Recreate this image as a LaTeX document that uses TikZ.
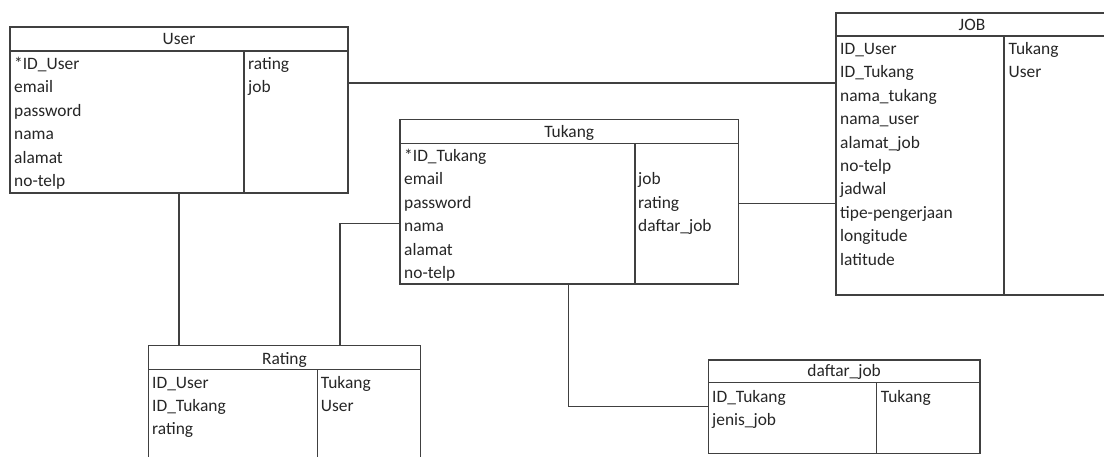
\documentclass[tikz,border=0pt]{standalone}
\usepackage{fontspec}
\setmainfont{Carlito}
\definecolor{ln}{HTML}{404040}
\definecolor{tx}{HTML}{262626}
\begin{document}
\begin{tikzpicture}[x=1pt,y=-1pt,
  tbl/.style={draw=ln,line width=1.3pt,rectangle,inner sep=0pt,outer sep=0pt},
  sep/.style={draw=ln,line width=1.3pt},
  conn/.style={draw=ln,line width=1.3pt},
  fld/.style={anchor=base west,inner sep=0pt,text=tx,font=\fontsize{17.4}{20}\selectfont},
  ttl/.style={anchor=base,inner sep=0pt,text=tx,font=\fontsize{17.4}{20}\selectfont}]
\clip (0,0) rectangle (1104,456);
\fill[white] (0,0) rectangle (1104,456);
% ---------- User ----------
\node[tbl,minimum width=338pt,minimum height=166pt] (user) at (179,110) {};
\draw[sep] (10,51) -- (348,51);
\draw[sep] (244,51) -- (244,193);
\node[ttl] (userT) at (179,44) {User};
\foreach \t [count=\i] in {*ID\_User,email,password,nama,alamat,no-telp}
  \node[fld] (uL\i) at (14,{69+23.5*(\i-1)}) {\t};
\foreach \t [count=\i] in {rating,job}
  \node[fld] (uR\i) at (248,{69+23.5*(\i-1)}) {\t};
% ---------- JOB ----------
\node[tbl,minimum width=272pt,minimum height=282pt] (job) at (972,154) {};
\draw[sep] (836,36) -- (1108,36);
\draw[sep] (1004,36) -- (1004,295);
\node[ttl] (jobT) at (972,30.5) {JOB};
\foreach \t [count=\i] in {ID\_User,ID\_Tukang,nama\_tukang,nama\_user,alamat\_job,no-telp,jadwal,tipe-pengerjaan,longitude,latitude}
  \node[fld] (jL\i) at (840,{54.5+23.4*(\i-1)}) {\t};
\foreach \t [count=\i] in {Tukang,User}
  \node[fld] (jR\i) at (1008.5,{54.5+23.4*(\i-1)}) {\t};
% ---------- Tukang ----------
\node[tbl,minimum width=338.5pt,minimum height=164.5pt] (tukang) at (569.25,201.75) {};
\draw[sep] (400,143.5) -- (738.5,143.5);
\draw[sep] (635,143.5) -- (635,284);
\node[ttl] (tukT) at (569.25,137) {Tukang};
\foreach \t [count=\i] in {*ID\_Tukang,email,password,nama,alamat,no-telp}
  \node[fld] (tL\i) at (404,{161.5+23.4*(\i-1)}) {\t};
\foreach \t [count=\i] in {job,rating,daftar\_job}
  \node[fld] (tR\i) at (638,{184.9+23.4*(\i-1)}) {\t};
% ---------- Rating ----------
\node[tbl,minimum width=272.5pt,minimum height=124pt] (rating) at (284.5,407.7) {};
\draw[sep] (148.3,369.3) -- (420.7,369.3);
\draw[sep] (317.3,369.3) -- (317.3,470);
\node[ttl] (ratT) at (284.5,364) {Rating};
\foreach \t [count=\i] in {ID\_User,ID\_Tukang,rating}
  \node[fld] (rL\i) at (152,{388+23.4*(\i-1)}) {\t};
\foreach \t [count=\i] in {Tukang,User}
  \node[fld] (rR\i) at (320.7,{388+23.4*(\i-1)}) {\t};
% ---------- daftar_job ----------
\node[tbl,minimum width=271.7pt,minimum height=93.3pt] (daftar) at (844.15,406.65) {};
\draw[sep] (708.3,382.7) -- (980,382.7);
\draw[sep] (876.7,382.7) -- (876.7,453.3);
\node[ttl] (dafT) at (844.15,376) {daftar\_job};
\foreach \t [count=\i] in {ID\_Tukang,jenis\_job}
  \node[fld] (dL\i) at (712,{402+23.4*(\i-1)}) {\t};
\node[fld] (dR1) at (880.7,402) {Tukang};
% ---------- connectors ----------
\draw[conn] (user.east |- 0,83) -- (job.west |- 0,83);
\draw[conn] (user.south -| 179,0) -- (rating.north -| 179,0);
\draw[conn] (tukang.west |- 0,223.3) -| (rating.north -| 340,0);
\draw[conn] (tukang.east |- 0,203.3) -- (job.west |- 0,203.3);
\draw[conn] (tukang.south -| 568.3,0) |- (daftar.west |- 0,406.7);
\end{tikzpicture}
\end{document}
